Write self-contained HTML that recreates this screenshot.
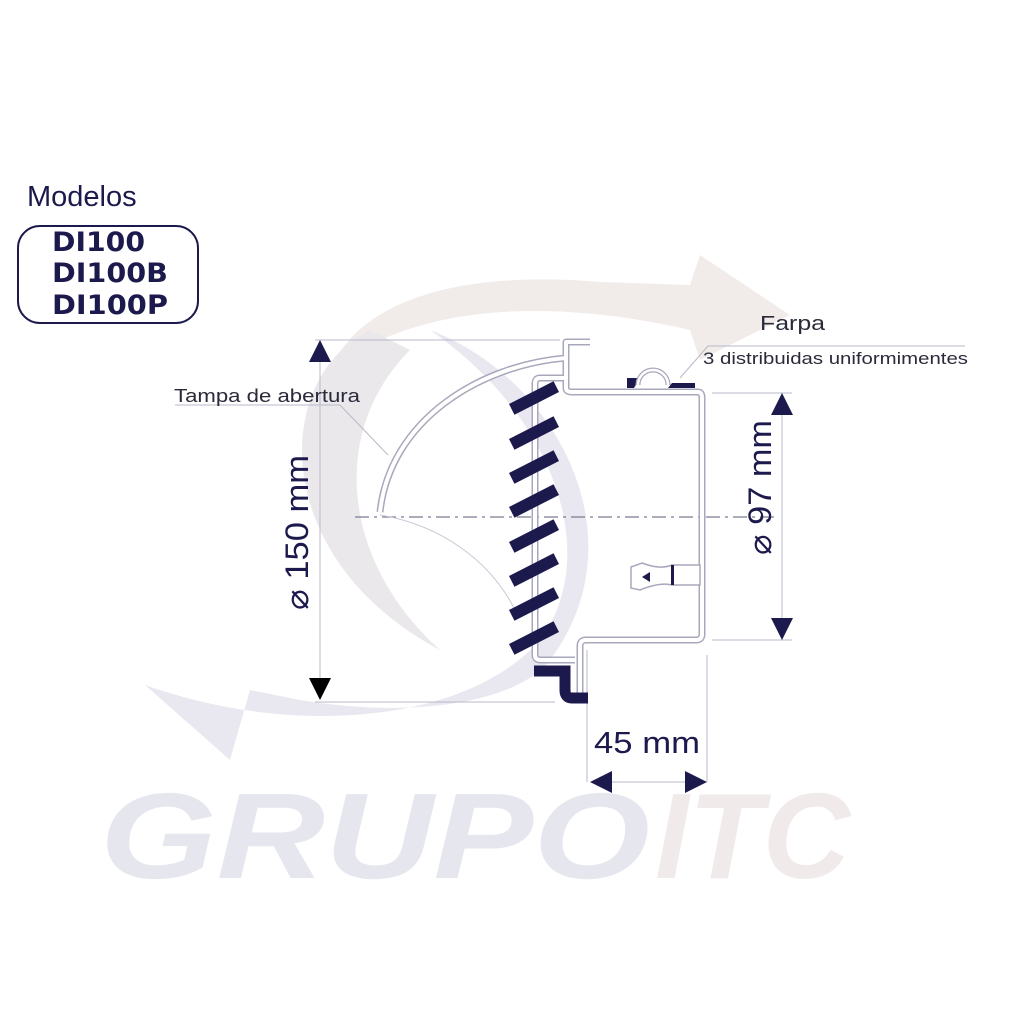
<!DOCTYPE html>
<html><head><meta charset="utf-8"><style>
html,body{margin:0;padding:0;background:#fff}
svg{display:block}
</style></head><body>
<svg width="1024" height="1024" viewBox="0 0 1024 1024" xmlns="http://www.w3.org/2000/svg" font-family="Liberation Sans, sans-serif">
<rect width="1024" height="1024" fill="#fff"/>
<!-- watermark -->
<path d="M330 370 C360 300 460 270 600 282 L690 285 L700 255 L790 315 L700 360 L690 330 C560 300 420 300 330 370 Z" fill="#f1ecea"/>
<path d="M370 330 C270 380 270 560 440 650 C340 560 330 430 410 350 Z" fill="#ebe8ec"/>
<path d="M430 330 C560 380 640 540 550 660 C520 700 420 720 300 700 L250 690 L230 760 L145 685 C300 740 470 720 540 640 C600 560 560 420 430 330 Z" fill="#e9e8f0"/>
<text x="100" y="878" font-size="122" font-weight="bold" font-style="italic" fill="#e6e6ee" textLength="550" lengthAdjust="spacingAndGlyphs">GRUPO</text>
<text x="655" y="878" font-size="122" font-weight="bold" font-style="italic" fill="#f0eaea" textLength="195" lengthAdjust="spacingAndGlyphs">ITC</text>

<!-- Modelos -->
<text x="27" y="206" font-size="29" fill="#1c1a4d">Modelos</text>
<rect x="18" y="226" width="180" height="97" rx="22" fill="none" stroke="#1c1a4d" stroke-width="2"/>
<g font-size="27" font-weight="900" fill="#1c1a4d" font-family="DejaVu Sans, sans-serif">
<text x="52" y="251" textLength="93" lengthAdjust="spacingAndGlyphs">DI100</text>
<text x="52" y="282" textLength="116" lengthAdjust="spacingAndGlyphs">DI100B</text>
<text x="52" y="314" textLength="116" lengthAdjust="spacingAndGlyphs">DI100P</text>
</g>

<!-- dimension lines -->
<g stroke="#b8b8c8" stroke-width="1" fill="none">
<line x1="315" y1="340" x2="560" y2="340"/>
<line x1="315" y1="702" x2="555" y2="702"/>
<line x1="320" y1="350" x2="320" y2="690"/>
<line x1="712" y1="393" x2="792" y2="393"/>
<line x1="712" y1="640" x2="792" y2="640"/>
<line x1="782" y1="400" x2="782" y2="630"/>
<line x1="587" y1="650" x2="587" y2="782"/>
<line x1="707" y1="655" x2="707" y2="782"/>
<line x1="595" y1="782" x2="700" y2="782"/>
<line x1="175" y1="405" x2="340" y2="405"/>
<polyline points="340,405 388,455"/>
<polyline points="680,378 708,346 965,346"/>
</g>
<line x1="355" y1="517" x2="775" y2="517" stroke="#7a7a90" stroke-width="1.2" stroke-dasharray="14,5,3,5"/>
<g fill="#1c1a4d">
<polygon points="320,340 309,362 331,362"/>
<polygon points="320,700 309,678 331,678" fill="#000"/>
<polygon points="782,393 771,415 793,415"/>
<polygon points="782,640 771,618 793,618"/>
<polygon points="590,782 612,771 612,793"/>
<polygon points="707,782 685,771 685,793"/>
</g>
<text x="174" y="402" font-size="18" fill="#2a2a3a" textLength="186" lengthAdjust="spacingAndGlyphs">Tampa de abertura</text>
<text x="760" y="330" font-size="20" fill="#2a2a3a" textLength="65" lengthAdjust="spacingAndGlyphs">Farpa</text>
<text x="703" y="364" font-size="17" fill="#2a2a3a" textLength="265" lengthAdjust="spacingAndGlyphs">3 distribuidas uniformimentes</text>
<text transform="translate(308,610) rotate(-90)" font-size="32" fill="#1c1a4d" textLength="155" lengthAdjust="spacingAndGlyphs">⌀ 150 mm</text>
<text transform="translate(771,555) rotate(-90)" font-size="32" fill="#1c1a4d" textLength="135" lengthAdjust="spacingAndGlyphs">⌀ 97 mm</text>
<text x="594" y="753" font-size="31" fill="#1c1a4d" textLength="106" lengthAdjust="spacingAndGlyphs">45 mm</text>

<!-- housing double lines -->
<g fill="none" stroke-linejoin="round">
<g stroke="#a8a8bc" stroke-width="7">
<path d="M590 342 L566 342 L566 388 Q566 392 572 392 L698 392 Q702 392 702 398 L702 634 Q702 640 696 640 L586 640 Q580 640 580 646 L580 700"/>
<path d="M568 378 L540 378 Q535 378 535 384 L535 655 Q535 660 541 660 L575 660"/>
<path d="M566 358 C480 365 390 420 380 512"/>
</g>
<g stroke="#fff" stroke-width="4">
<path d="M590 342 L566 342 L566 388 Q566 392 572 392 L698 392 Q702 392 702 398 L702 634 Q702 640 696 640 L586 640 Q580 640 580 646 L580 700"/>
<path d="M568 378 L540 378 Q535 378 535 384 L535 655 Q535 660 541 660 L575 660"/>
<path d="M566 358 C480 365 390 420 380 512"/>
</g>
<path d="M380 515 C440 525 490 560 515 610" stroke="#c8c8d6" stroke-width="1"/>
</g>
<!-- louvres -->
<g fill="#1c1a4d">
<g transform="translate(534,398) rotate(-27)"><rect x="-25" y="-6" width="50" height="12"/></g>
<g transform="translate(534,433) rotate(-27)"><rect x="-25" y="-6" width="50" height="12"/></g>
<g transform="translate(534,467) rotate(-27)"><rect x="-25" y="-6" width="50" height="12"/></g>
<g transform="translate(534,501) rotate(-27)"><rect x="-25" y="-6" width="50" height="12"/></g>
<g transform="translate(534,536) rotate(-27)"><rect x="-25" y="-6" width="50" height="12"/></g>
<g transform="translate(534,570) rotate(-27)"><rect x="-25" y="-6" width="50" height="12"/></g>
<g transform="translate(534,604) rotate(-27)"><rect x="-25" y="-6" width="50" height="12"/></g>
<g transform="translate(534,638) rotate(-27)"><rect x="-25" y="-6" width="50" height="12"/></g>
</g>
<path d="M534 671 L565 671 L565 690 Q565 698 572 698 L588 698" fill="none" stroke="#1c1a4d" stroke-width="11"/>
<!-- farpa -->
<path d="M627 378 L640 378 L634 388 L627 388 Z M672 383 L695 383 L695 388 L668 388 Z" fill="#1c1a4d"/>
<path d="M638 385 A14 14 0 0 1 668 385" fill="none" stroke="#a8a8bc" stroke-width="5"/>
<path d="M638 385 A14 14 0 0 1 668 385" fill="none" stroke="#fff" stroke-width="2.5"/>
<!-- clip -->
<path d="M631 567 L642 563 Q660 570 672 565 L700 565 L700 585 L672 585 Q660 582 640 590 L631 588 Z" fill="#fff" stroke="#a8a8bc" stroke-width="1.5"/>
<rect x="671" y="565" width="3" height="20" fill="#1c1a4d"/>
<polygon points="642,577 650,572 650,582" fill="#1c1a4d"/>
</svg>
</body></html>
